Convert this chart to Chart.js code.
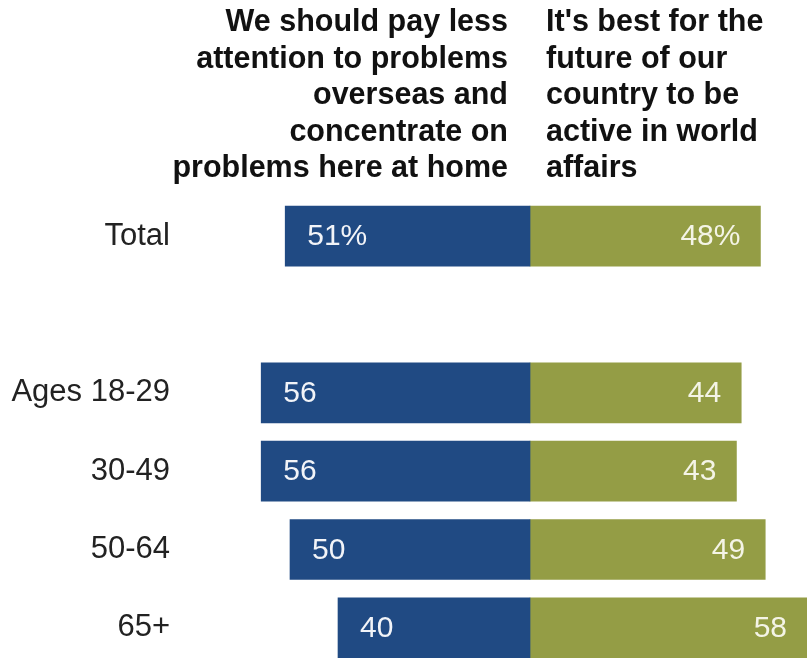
<!DOCTYPE html>
<html>
<head>
<meta charset="utf-8">
<script src="https://cdn.jsdelivr.net/npm/chart.js@4"></script>
<style>
  html, body { margin: 0; padding: 0; background: #fff; overflow: hidden; }
  #wrap { width: 807px; height: 658px; overflow: hidden; }
</style>
</head>
<body>
<div id="wrap"><canvas id="chart" width="807" height="667"></canvas></div>
<script>
const groups = ["Total", "", "Ages 18-29", "30-49", "50-64", "65+"];
const lessAttention = [51, null, 56, 56, 50, 40];
const activeWorld = [48, null, 44, 43, 49, 58];
const headLeft = ["We should pay less", "attention to problems", "overseas and", "concentrate on", "problems here at home"];
const headRight = ["It's best for the", "future of our", "country to be", "active in world", "affairs"];

const BLUE = "#204a83";
const GREEN = "#949d45";

const headerPlugin = {
    id: "headers",
    afterDraw(chart) {
        const ctx = chart.ctx;
        ctx.save();
        ctx.font = "bold 30.5px 'Liberation Sans', Arial, sans-serif";
        ctx.fillStyle = "#111";
        ctx.textBaseline = "alphabetic";
        ctx.textAlign = "right";
        headLeft.forEach(function (line, i) {
            ctx.fillText(line, 508, 31 + i * 36.5);
        });
        ctx.textAlign = "left";
        headRight.forEach(function (line, i) {
            ctx.fillText(line, 546, 31 + i * 36.5);
        });
        ctx.restore();
    },
};

const valuePlugin = {
    id: "values",
    afterDatasetsDraw(chart) {
        const ctx = chart.ctx;
        ctx.save();
        ctx.font = "30px 'Liberation Sans', Arial, sans-serif";
        ctx.textBaseline = "middle";
        chart.data.datasets.forEach(function (ds, di) {
            const meta = chart.getDatasetMeta(di);
            const src = di === 0 ? lessAttention : activeWorld;
            meta.data.forEach(function (bar, i) {
                if (src[i] == null) return;
                const txt = src[i] + (i === 0 ? "%" : "");
                if (di === 0) {
                    ctx.fillStyle = "#f2f4f8";
                    ctx.textAlign = "left";
                    ctx.fillText(txt, bar.x + 22, bar.y + 1);
                } else {
                    ctx.fillStyle = "#f4f4e6";
                    ctx.textAlign = "right";
                    ctx.fillText(txt, Math.min(bar.x, 807) - 20, bar.y + 1);
                }
            });
        });
        ctx.restore();
    },
};

new Chart(document.getElementById("chart").getContext("2d"), {
    type: "bar",
    data: {
        labels: groups,
        datasets: [
            {
                label: "Pay less attention overseas",
                data: lessAttention.map(function (v) { return v == null ? null : -v; }),
                backgroundColor: BLUE,
                barThickness: 60,
            },
            {
                label: "Active in world affairs",
                data: activeWorld,
                backgroundColor: GREEN,
                barThickness: 60,
            },
        ],
    },
    options: {
        indexAxis: "y",
        responsive: false,
        animation: false,
        layout: { padding: { top: 197, left: 0, right: 0, bottom: 0 } },
        plugins: {
            legend: { display: false },
            tooltip: { enabled: false },
        },
        scales: {
            x: {
                display: false,
                stacked: true,
                min: -60,
                max: 57.7,
            },
            y: {
                stacked: true,
                grid: { display: false, drawTicks: false },
                border: { display: false },
                ticks: {
                    autoSkip: false,
                    padding: 72,
                    color: "#222",
                    font: { family: "'Liberation Sans', Arial, sans-serif", size: 31 },
                },
                afterFit: function (scale) {
                    scale.width = 242;
                    // tick padding should not push the plot area up/down
                    scale.paddingTop = 0;
                    scale.paddingBottom = 0;
                },
            },
        },
    },
    plugins: [headerPlugin, valuePlugin],
});
</script>
</body>
</html>
